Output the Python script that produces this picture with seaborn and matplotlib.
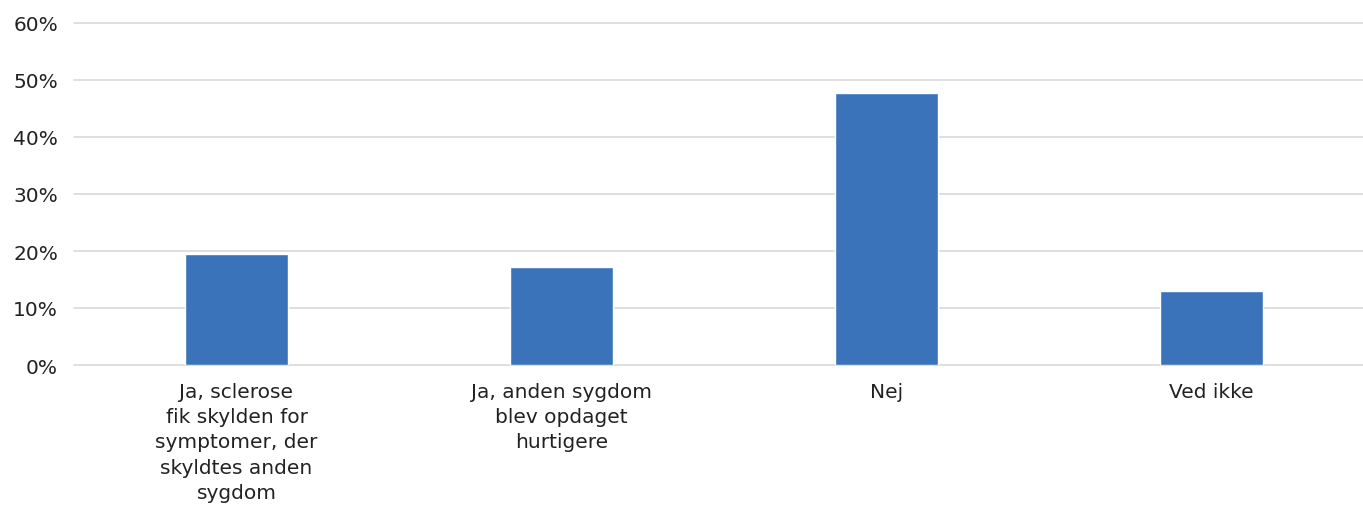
import matplotlib
matplotlib.use("Agg")
import matplotlib.pyplot as plt
import seaborn as sns
import pandas as pd
from matplotlib.ticker import FuncFormatter, MultipleLocator

categories = [
    "Ja, sclerose\nfik skylden for\nsymptomer, der\nskyldtes anden\nsygdom",
    "Ja, anden sygdom\nblev opdaget\nhurtigere",
    "Nej",
    "Ved ikke",
]
values = [19.4, 17.2, 47.8, 12.9]

df = pd.DataFrame({"svar": categories, "andel": values})

sns.set_theme(style="white")
plt.rcParams["font.family"] = ["DejaVu Sans"]

fig = plt.figure(figsize=(13.63, 5.06), dpi=100)
ax = fig.add_axes([74 / 1363, 1 - 366 / 506, 1300 / 1363, (366 - 24) / 506])

sns.barplot(data=df, x="svar", y="andel", color="#3A73B9", width=0.314,
            saturation=1, ax=ax, zorder=3)

ax.set_ylim(0, 60)
ax.set_xlim(-0.5, 3.5)
ax.yaxis.set_major_locator(MultipleLocator(10))
ax.yaxis.set_major_formatter(FuncFormatter(lambda v, p: f"{v:.0f}%"))
ax.grid(axis="y", color="#d9d9d9", linewidth=1.2, zorder=0)
ax.set_axisbelow(True)
for gl in ax.get_ygridlines():
    gl.set_clip_on(False)
for s in ax.spines.values():
    s.set_visible(False)
ax.set_xlabel("")
ax.set_ylabel("")
ax.tick_params(axis="both", length=0, labelsize=14.5, colors="#222222")
ax.tick_params(axis="y", pad=11.5)
ax.tick_params(axis="x", pad=12)
for lbl in ax.get_xticklabels():
    lbl.set_linespacing(1.42)

fig.savefig("out.png", dpi=100)
